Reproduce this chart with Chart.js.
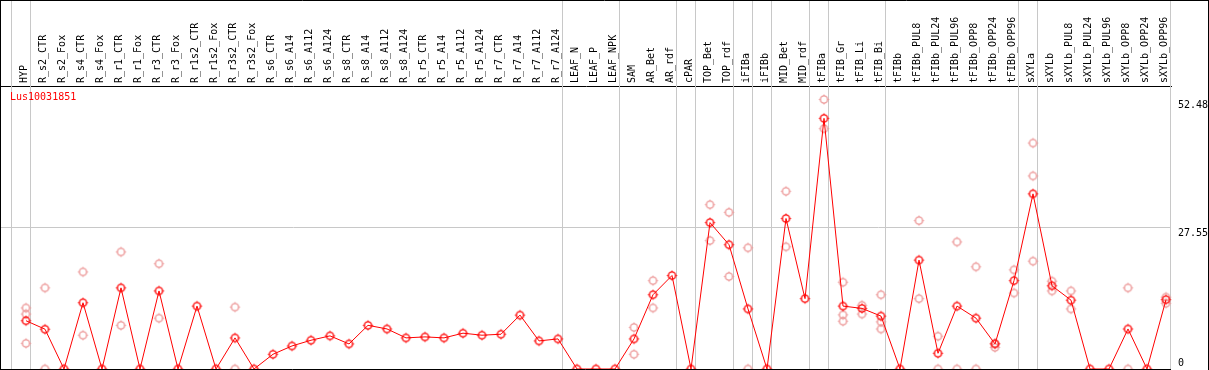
<!DOCTYPE html>
<html>
<head>
<meta charset="utf-8">
<script src="https://cdn.jsdelivr.net/npm/chart.js@4/dist/chart.umd.min.js"></script>
<style>
  html, body { margin: 0; padding: 0; background: #fff; }
  #chart { display: block; }
</style>
</head>
<body>
<canvas id="chart" width="1209" height="370"></canvas>
<script>
// sample names (columns)
const samples = [
  'HYP', 'R_s2_CTR', 'R_s2_Fox', 'R_s4_CTR', 'R_s4_Fox', 'R_r1_CTR', 'R_r1_Fox', 'R_r3_CTR', 'R_r3_Fox',
  'R_r1s2_CTR', 'R_r1s2_Fox', 'R_r3s2_CTR', 'R_r3s2_Fox', 'R_s6_CTR', 'R_s6_A14', 'R_s6_A112', 'R_s6_A124',
  'R_s8_CTR', 'R_s8_A14', 'R_s8_A112', 'R_s8_A124', 'R_r5_CTR', 'R_r5_A14', 'R_r5_A112', 'R_r5_A124',
  'R_r7_CTR', 'R_r7_A14', 'R_r7_A112', 'R_r7_A124', 'LEAF_N', 'LEAF_P', 'LEAF_NPK', 'SAM', 'AR_Bet', 'AR_rdf',
  'cPAR', 'TOP_Bet', 'TOP_rdf', 'iFIBa', 'iFIBb', 'MID_Bet', 'MID_rdf', 'tFIBa', 'tFIB_Gr', 'tFIB_Li', 'tFIB_Bi',
  'tFIBb', 'tFIBb_PUL8', 'tFIBb_PUL24', 'tFIBb_PUL96', 'tFIBb_OPP8', 'tFIBb_OPP24', 'tFIBb_OPP96',
  'sXYLa', 'sXYLb', 'sXYLb_PUL8', 'sXYLb_PUL24', 'sXYLb_PUL96', 'sXYLb_OPP8', 'sXYLb_OPP24', 'sXYLb_OPP96'
];

// mean expression
const means = [
  9.4, 7.75, 0, 12.9, 0, 15.8, 0, 15.2, 0,
  12.25, 0, 6.06, 0, 2.87, 4.49, 5.6, 6.45,
  4.88, 8.5, 7.8, 6.06, 6.25, 6.06, 6.97, 6.58,
  6.77, 10.5, 5.47, 5.86, 0, 0, 0, 5.86, 14.46, 18.2,
  0, 28.5, 24.2, 11.7, 0, 29.3, 13.7, 48.8, 12.25, 11.8, 10.3,
  0, 21.2, 3.06, 12.25, 9.9, 4.88, 17.2,
  34.1, 16.2, 13.4, 0, 0, 7.8, 0, 13.5
];

// replicates (null = not shown)
const rep1 = [
  11.9, 15.8, null, 18.9, null, 22.8, null, 20.5, null,
  null, null, 12.05, null, null, null, null, null,
  null, null, null, null, null, null, null, null,
  null, null, null, null, null, null, null, 8.1, 17.2, null,
  null, 32.0, 30.5, 23.6, null, 34.6, null, 52.48, 16.9, 12.4, 14.46,
  null, 28.9, 6.38, 24.75, 19.9, 5.0, 19.3,
  44.0, 17.1, 15.2, null, null, 15.8, null, 14.0
];
const rep2 = [
  10.7, 0, null, 6.58, null, 8.5, null, 9.9, null,
  null, null, 0, null, null, null, null, null,
  null, null, null, null, null, null, null, null,
  null, null, null, null, null, null, null, 2.87, 11.9, null,
  null, 25.0, 18.0, 0, null, 23.8, null, 46.8, 10.55, 10.7, 9.18,
  null, 13.7, 0, 0, 0, 4.2, 14.8,
  37.6, 15.2, 11.7, null, null, 0, null, 12.8
];
const rep3 = [
  5.0, null, null, null, null, null, null, null, null,
  null, null, null, null, null, null, null, null,
  null, null, null, null, null, null, null, null,
  null, null, null, null, null, null, null, null, null, null,
  null, null, null, null, null, null, null, null, 9.3, null, 7.8,
  null, null, null, null, null, null, null,
  21.0, null, null, null, null, null, null, null
];

// separators drawn after these columns
const groupEnds = [-1, 0, 28, 31, 34, 35, 37, 38, 39, 41, 42, 45, 52, 53, 60];
const yTicks = [0, 27.55, 52.48];
const geneName = 'Lus10031851';

const FONT = '"DejaVu Sans Mono", monospace';

function makeMarker(color) {
  const c = document.createElement('canvas');
  c.width = 13; c.height = 13;
  const g = c.getContext('2d');
  g.strokeStyle = color;
  g.lineWidth = 1.4;
  g.beginPath();
  g.arc(6.5, 6.5, 3.6, 0, Math.PI * 2);
  g.stroke();
  g.lineWidth = 1;
  g.beginPath();
  g.moveTo(6.5, 1.5); g.lineTo(6.5, 3);
  g.moveTo(6.5, 10); g.lineTo(6.5, 11.5);
  g.moveTo(1.5, 6.5); g.lineTo(3, 6.5);
  g.moveTo(10, 6.5); g.lineTo(11.5, 6.5);
  g.stroke();
  return c;
}

const RED = '#ff0000';
const PINK = 'rgb(236,150,150)';
const redMark = makeMarker(RED);
const pinkMark = makeMarker(PINK);

const lineData = means.map((v, i) => ({ x: i, y: v }));
const repData = [];
[rep1, rep2, rep3].forEach(arr => {
  arr.forEach((v, i) => { if (v !== null) repData.push({ x: i, y: v }); });
});

const framePlugin = {
  id: 'frame',
  beforeDatasetsDraw(chart) {
    const ctx = chart.ctx;
    const xs = chart.scales.x;
    const area = chart.chartArea;
    ctx.save();
    ctx.strokeStyle = '#c8c8c8';
    ctx.lineWidth = 1;
    groupEnds.forEach(i => {
      const px = Math.round(xs.getPixelForValue(i + 0.22)) + 0.5;
      ctx.beginPath();
      ctx.moveTo(px, 0);
      ctx.lineTo(px, area.bottom);
      ctx.stroke();
    });
    ctx.restore();
  },
  afterDraw(chart) {
    const ctx = chart.ctx;
    const ys = chart.scales.y;
    const area = chart.chartArea;
    const W = chart.width;
    ctx.save();
    ctx.strokeStyle = '#000';
    ctx.lineWidth = 1;
    ctx.beginPath();
    ctx.moveTo(0, 0.5); ctx.lineTo(W, 0.5);
    ctx.moveTo(0.5, 0); ctx.lineTo(0.5, area.bottom);
    ctx.moveTo(W - 0.5, 0); ctx.lineTo(W - 0.5, chart.height);
    ctx.moveTo(0, area.bottom + 0.5); ctx.lineTo(area.right, area.bottom + 0.5);
    ctx.stroke();

    ctx.font = '10px ' + FONT;
    ctx.fillStyle = '#000';
    ctx.textAlign = 'left';
    yTicks.forEach(v => {
      const py = ys.getPixelForValue(v);
      if (v === 0) {
        ctx.textBaseline = 'bottom';
        ctx.fillText('0', area.right + 7, py - 1);
      } else {
        ctx.textBaseline = 'top';
        ctx.fillText(String(v), area.right + 7, py + 1);
      }
    });

    ctx.fillStyle = RED;
    ctx.textBaseline = 'middle';
    ctx.fillText(geneName, 10, area.top + 11);
    ctx.restore();
  }
};

new Chart(document.getElementById('chart'), {
  type: 'line',
  data: {
    datasets: [
      {
        data: lineData,
        borderColor: RED,
        borderWidth: 1,
        pointStyle: redMark,
        pointRadius: 5,
        clip: false,
        tension: 0
      },
      {
        type: 'scatter',
        data: repData,
        pointStyle: pinkMark,
        pointRadius: 5,
        showLine: false,
        clip: false
      }
    ]
  },
  options: {
    responsive: false,
    animation: false,
    devicePixelRatio: 1,
    layout: { autoPadding: false, padding: { left: 1, right: 0, top: 0, bottom: 1 } },
    plugins: { legend: { display: false }, tooltip: { enabled: false } },
    scales: {
      x: {
        type: 'linear',
        position: 'top',
        min: -25 / 19,
        max: 60 + 5 / 19,
        afterBuildTicks: s => { s.ticks = samples.map((_, i) => ({ value: i })); },
        afterFit: s => {
          s.height = 86;
          s.paddingLeft = 0; s.paddingRight = 0;
        },
        grid: { display: false, drawTicks: false },
        border: { display: true, color: '#000', width: 1 },
        ticks: {
          autoSkip: false,
          minRotation: 90,
          maxRotation: 90,
          padding: 3,
          color: '#000',
          font: { family: FONT, size: 10, lineHeight: 0.2 },
          callback: v => samples[v]
        }
      },
      y: {
        position: 'right',
        min: 0,
        max: 55.1,
        afterBuildTicks: s => { s.ticks = yTicks.map(v => ({ value: v })); },
        afterFit: s => {
          s.width = 38;
          s.paddingTop = 0; s.paddingBottom = 0;
        },
        grid: {
          drawTicks: false,
          color: c => (c.tick && c.tick.value === 27.55 ? '#c8c8c8' : 'rgba(0,0,0,0)')
        },
        border: { display: false },
        ticks: { display: false }
      }
    }
  },
  plugins: [framePlugin]
});
</script>
</body>
</html>
